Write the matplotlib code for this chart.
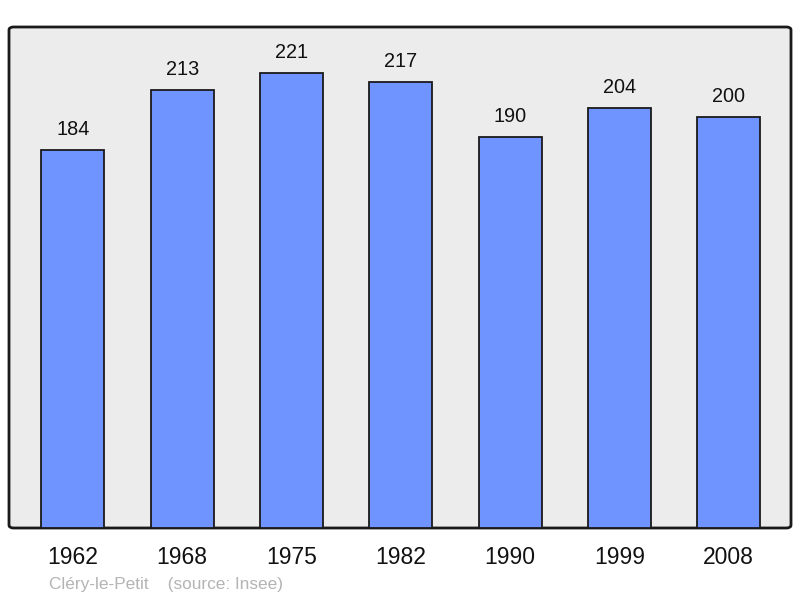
import matplotlib
matplotlib.use('Agg')
import matplotlib.pyplot as plt
import matplotlib.transforms as mtransforms
from matplotlib.patches import FancyBboxPatch

plt.rcParams['font.family'] = ['Liberation Sans', 'DejaVu Sans']

years = ['1962', '1968', '1975', '1982', '1990', '1999', '2008']
population = [184, 213, 221, 217, 190, 204, 200]

W, H = 800, 598
fig = plt.figure(figsize=(W / 100, H / 100), dpi=100)
ax = fig.add_axes([9 / W, (H - 528) / H, 782 / W, 501 / H])
ax.set_facecolor('none')

# rounded frame behind the bars
frame = FancyBboxPatch((0, 0), 1, 1, boxstyle='round,pad=0,rounding_size=0.006',
                       transform=ax.transAxes, facecolor='#ececec', edgecolor='#1a1a1a',
                       linewidth=2, clip_on=False, zorder=0)
ax.add_patch(frame)

x = list(range(len(years)))
ax.bar(x, population, width=0.576, color='#7094ff', edgecolor='#1a1a1a', linewidth=1.3, zorder=2)
for xi, v in zip(x, population):
    ax.text(xi, v + 10, str(v), ha='center', va='center', fontsize=14.3, color='#111111')

ax.set_xlim(-0.585, 6.57)
ax.set_ylim(0, 243.6)
for s in ax.spines.values():
    s.set_visible(False)
ax.set_yticks([])
ax.set_xticks([])

# year labels below the frame
trans = mtransforms.blended_transform_factory(ax.transData, fig.transFigure)
for xi, yr in zip(x, years):
    ax.text(xi, 1 - 558 / H, yr, transform=trans, ha='center', va='center',
            fontsize=16.5, color='#111111', clip_on=False)

fig.text(49 / W, 1 - 585 / H, 'Cléry-le-Petit    (source: Insee)', fontsize=12.4,
         color='#b4b4b4', ha='left', va='center')

fig.savefig('out.png', dpi=100)
